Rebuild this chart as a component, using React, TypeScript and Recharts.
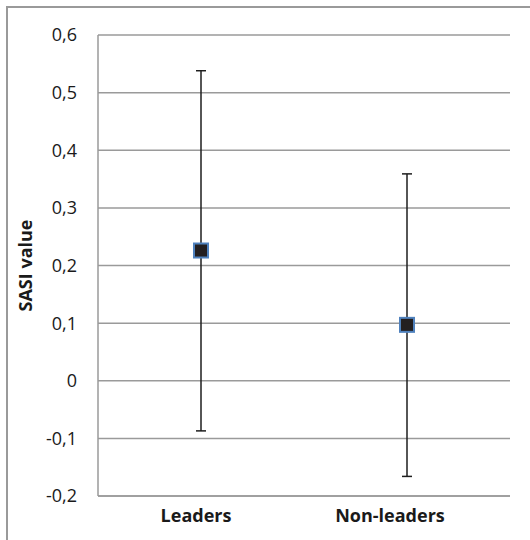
import { ScatterChart, Scatter, XAxis, YAxis, CartesianGrid, ErrorBar, Label } from 'recharts';

const categories = ['Leaders', 'Non-leaders'];
const means = [0.226, 0.097];
const lows = [-0.087, -0.166];
const highs = [0.538, 0.359];
const yTicks = [-0.2, -0.1, 0, 0.1, 0.2, 0.3, 0.4, 0.5, 0.6];
const xTicks = [0.5, 1.5];

const rows = categories.map((name, i) => ({
  pos: i + 0.5,
  name,
  value: means[i],
  err: [means[i] - lows[i], highs[i] - means[i]],
}));

const FONT = '"Open Sans", sans-serif';
const GRID = '#9a9a9a';

const fmtY = (v: number) => (v === 0 ? '0' : v.toFixed(1).replace('.', ','));

function SquareMark(props: any) {
  const { cx, cy } = props;
  return <rect x={cx - 7} y={cy - 7} width={14} height={14} fill="#231f20" stroke="#4f81bd" strokeWidth={2} />;
}

function CatTick(props: any) {
  const { x, y, payload, index } = props;
  const shift = [-5, -17];
  const label = categories[Math.round(payload.value - 0.5)] ?? '';
  return (
    <text x={x + (shift[index] ?? 0)} y={y} dy={13} textAnchor="middle" fontFamily={FONT} fontSize={18} fontWeight={700} fill="#1a1a1a">
      {label}
    </text>
  );
}

function YTitle(props: any) {
  const vb = props.viewBox;
  const cy = vb.y + vb.height / 2;
  return (
    <text x={25} y={cy} transform={`rotate(-90 25 ${cy})`} textAnchor="middle" dominantBaseline="central" fontFamily={FONT} fontSize={18} fontWeight={700} fill="#1a1a1a">
      SASI value
    </text>
  );
}

export default function App() {
  return (
    <div style={{ position: 'absolute', left: 0, top: 0, width: 530, height: 540, overflow: 'hidden', background: '#fff' }}>
      <div style={{ position: 'absolute', left: 6, top: 6, width: 540, height: 550, borderLeft: `2px solid ${GRID}`, borderTop: `2px solid ${GRID}` }} />
      <div style={{ position: 'absolute', left: 0, top: 0 }}>
        <ScatterChart width={530} height={540} margin={{ top: 35, right: 20, bottom: 0, left: 0 }}>
          <CartesianGrid vertical={false} stroke={GRID} strokeWidth={1.5} />
          <XAxis
            dataKey="pos"
            type="number"
            domain={[0, 2]}
            ticks={xTicks}
            height={44}
            tickLine={false}
            axisLine={{ stroke: GRID, strokeWidth: 1.5 }}
            tick={<CatTick />}
            tickSize={6}
            tickMargin={7}
          />
          <YAxis
            dataKey="value"
            type="number"
            domain={[-0.2, 0.6]}
            ticks={yTicks}
            width={98}
            tickLine={false}
            axisLine={{ stroke: GRID, strokeWidth: 1.5 }}
            tickFormatter={fmtY}
            tickSize={6}
            tickMargin={15}
            tick={{ fontFamily: FONT, fontSize: 18, fill: '#1a1a1a' }}
          >
            <Label content={<YTitle />} />
          </YAxis>
          <Scatter data={rows} dataKey="value" shape={<SquareMark />} isAnimationActive={false}>
            <ErrorBar dataKey="err" direction="y" width={5} stroke="#1e1e1e" strokeWidth={1.5} />
          </Scatter>
        </ScatterChart>
      </div>
    </div>
  );
}
